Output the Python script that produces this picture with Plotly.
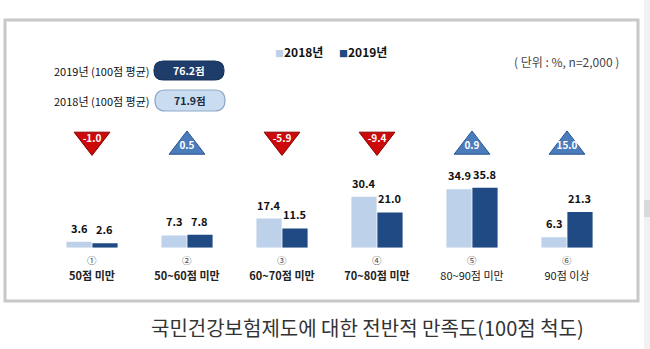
import plotly.graph_objects as go

# ---- data ----
circled = ["①", "②", "③", "④", "⑤", "⑥"]
groups = ["50점 미만", "50~60점 미만", "60~70점 미만", "70~80점 미만", "80~90점 미만", "90점 이상"]
v2018 = [3.6, 7.3, 17.4, 30.4, 34.9, 6.3]
v2019 = [2.6, 7.8, 11.5, 21.0, 35.8, 21.3]
avg_labels = ["2019년 (100점 평균)", "2018년 (100점 평균)"]
avg_values = [76.2, 71.9]
series_names = ["2018년", "2019년"]
unit_note = "( 단위 : %, n=2,000 )"
title_text = "국민건강보험제도에 대한 전반적 만족도(100점 척도)"

# ---- styles ----
W, H = 650, 349
C18 = "#bdd2ea"
C19 = "#1f4a84"
RED = "#cc0a0a"
BLUE = "#4a7cbc"
FONT = "Noto Sans CJK KR, sans-serif"


def X(px):
    return px / W


def Y(py):
    return 1 - py / H


diffs = [round(b - a, 1) for a, b in zip(v2018, v2019)]
tick_text = [f"<b>{g}</b>" if i < 4 else g for i, g in enumerate(groups)]

BARGAP = 0.453
BGGAP = 0.03
half = (1 - BARGAP) / 4  # offset of each bar centre from the group centre (category units)

fig = go.Figure()
for name, vals, col in [(series_names[0], v2018, C18), (series_names[1], v2019, C19)]:
    fig.add_trace(go.Bar(
        name=name, x=groups, y=vals, marker=dict(color=col, line=dict(width=0)),
        showlegend=False, hoverinfo="x+y",
    ))

# change triangles (down = decrease, up = increase)
TRI_DOWN_Y, TRI_UP_Y = 64.3, 60.4
fig.add_trace(go.Scatter(
    x=groups,
    y=[TRI_DOWN_Y if d < 0 else TRI_UP_Y for d in diffs],
    mode="markers+text",
    marker=dict(
        symbol=["triangle-down" if d < 0 else "triangle-up" for d in diffs],
        size=31,
        color=[RED if d < 0 else BLUE for d in diffs],
        line=dict(color=["#8a0000" if d < 0 else "#2c5590" for d in diffs], width=1),
    ),
    text=[f"{d:.1f}" for d in diffs],
    textposition="middle center",
    textfont=dict(family=FONT, size=10, color="white", weight="bold"),
    cliponaxis=False, showlegend=False, hoverinfo="skip",
))

x0, x1 = 44.5, 614.5
y0px = 247.7
ppu = 1.676
ymax = 70
fig.update_layout(
    width=W, height=H, margin=dict(l=0, r=0, t=0, b=0),
    paper_bgcolor="white", plot_bgcolor="white",
    barmode="group", bargap=BARGAP, bargroupgap=BGGAP,
    font=dict(family=FONT, color="#222"),
    xaxis=dict(domain=[X(x0), X(x1)], range=[-0.5, 5.5], showgrid=False, zeroline=False,
               showline=False, ticks="", tickmode="array", tickvals=groups, ticktext=tick_text,
               ticklabelstandoff=20,
               tickfont=dict(family=FONT, size=11, color="#222"), fixedrange=True),
    yaxis=dict(domain=[Y(y0px), Y(y0px - ymax * ppu)], range=[0, ymax], visible=False,
               fixedrange=True),
)

shapes = []
# outer box
shapes.append(dict(type="rect", xref="paper", yref="paper", x0=X(5), x1=X(638), y0=Y(301), y1=Y(20),
                   line=dict(color="#c8c8c8", width=3), fillcolor="rgba(0,0,0,0)", layer="below"))
# right strip (scrollbar)
shapes.append(dict(type="rect", xref="paper", yref="paper", x0=X(644), x1=X(650), y0=0, y1=1,
                   line=dict(width=0), fillcolor="#f1f1f1", layer="below"))
shapes.append(dict(type="rect", xref="paper", yref="paper", x0=X(644), x1=X(650), y0=Y(217), y1=Y(200),
                   line=dict(width=0), fillcolor="#d9d9d9", layer="below"))


def pill(px0, py0, px1, py1):
    r = (py1 - py0) / 2
    pts = [
        ("M", px0 + r, py0), ("L", px1 - r, py0),
        ("Q", px1, py0, px1, py0 + r), ("Q", px1, py1, px1 - r, py1),
        ("L", px0 + r, py1),
        ("Q", px0, py1, px0, py0 + r), ("Q", px0, py0, px0 + r, py0),
    ]
    s = ""
    for p in pts:
        if p[0] in ("M", "L"):
            s += f"{p[0]} {X(p[1]):.5f},{Y(p[2]):.5f} "
        else:
            s += f"Q {X(p[1]):.5f},{Y(p[2]):.5f} {X(p[3]):.5f},{Y(p[4]):.5f} "
    return s + "Z"


annotations = []
# bar value labels
for vals, sgn in [(v2018, -1), (v2019, 1)]:
    for i, v in enumerate(vals):
        annotations.append(dict(xref="x", yref="y", x=i + sgn * half, y=v, text=f"<b>{v:.1f}</b>",
                                showarrow=False, xanchor="center", yanchor="bottom", yshift=4,
                                font=dict(family=FONT, size=11, color="#111")))

# circled category numbers
for i, c in enumerate(circled):
    annotations.append(dict(xref="x", yref="paper", x=i, y=Y(259.5), text=c, showarrow=False,
                            xanchor="center", yanchor="middle", borderpad=0,
                            font=dict(family=FONT, size=9.5, color="#444")))

pill_boxes = [(154, 61, 224, 80), (155, 90, 225, 111)]
pill_fill = ["#1e3d6b", "#c9dcf0"]
pill_line = ["#16305a", "#8fa9c8"]
pill_text_col = ["white", "#1a2a40"]
for i in range(2):
    bx = pill_boxes[i]
    shapes.append(dict(type="path", xref="paper", yref="paper", path=pill(*bx),
                       fillcolor=pill_fill[i], line=dict(color=pill_line[i], width=1.2)))
    annotations.append(dict(xref="paper", yref="paper", x=X((bx[0] + bx[2]) / 2), y=Y((bx[1] + bx[3]) / 2),
                            text=f"<b>{avg_values[i]:.1f}점</b>", showarrow=False,
                            font=dict(family=FONT, size=10.5, color=pill_text_col[i]),
                            xanchor="center", yanchor="middle"))
    annotations.append(dict(xref="paper", yref="paper", x=X(152), y=Y((bx[1] + bx[3]) / 2),
                            text=avg_labels[i], showarrow=False,
                            font=dict(family=FONT, size=11, color="#111"),
                            xanchor="right", yanchor="middle"))

# legend
leg_x = [273, 337]
for i, (nm, col) in enumerate(zip(series_names, [C18, C19])):
    annotations.append(dict(xref="paper", yref="paper", x=X(leg_x[i]), y=Y(51),
                            text=f"<span style='color:{col};font-size:9px'>■</span><b>{nm}</b>",
                            showarrow=False, xanchor="left", yanchor="middle",
                            font=dict(family=FONT, size=12, color="#111")))

annotations.append(dict(xref="paper", yref="paper", x=X(621), y=Y(62), text=unit_note, showarrow=False,
                        xanchor="right", yanchor="middle", font=dict(family=FONT, size=12, color="#444")))
annotations.append(dict(xref="paper", yref="paper", x=X(367), y=Y(327), text=title_text, showarrow=False,
                        xanchor="center", yanchor="middle", font=dict(family=FONT, size=20, color="#333")))

fig.update_layout(shapes=shapes, annotations=annotations)
fig.write_html("out.html")
